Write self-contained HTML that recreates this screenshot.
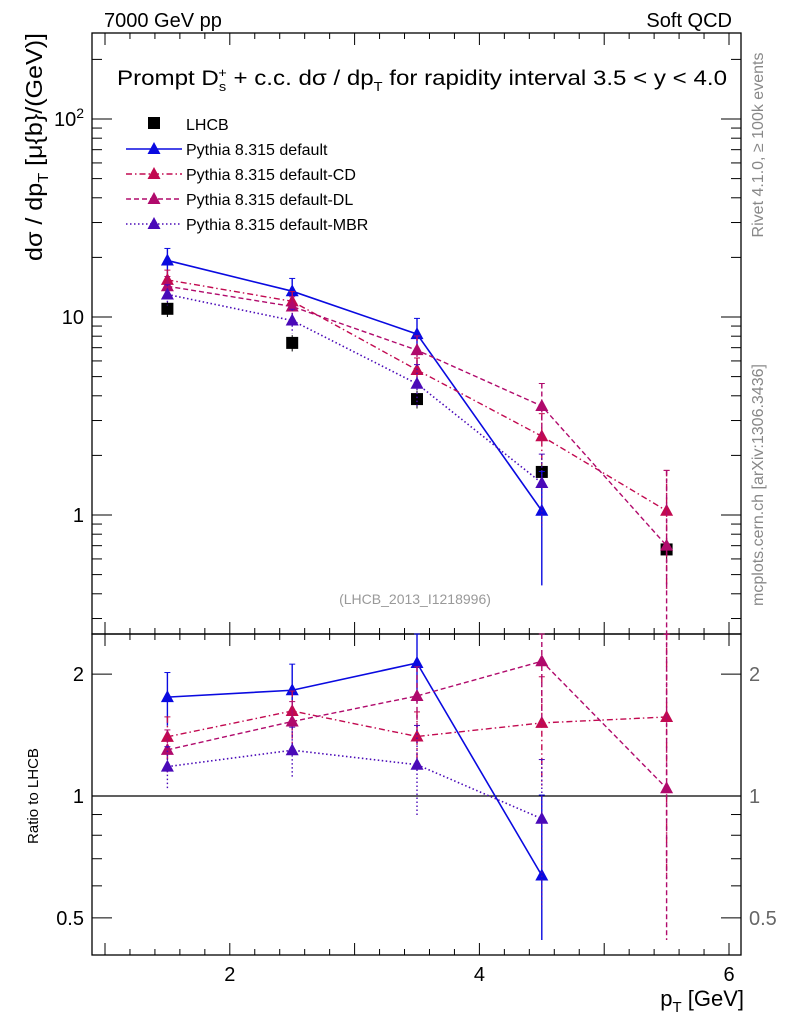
<!DOCTYPE html>
<html><head><meta charset="utf-8"><style>
body{margin:0;background:#fff;font-family:"Liberation Sans",sans-serif}
svg{display:block}
</style></head><body>
<svg id="c" width="786" height="1024" font-family="Liberation Sans, sans-serif"></svg>
<script>
const xCats=[1.5,2.5,3.5,4.5,5.5];
const lhcb=[11,7.4,3.85,1.65,0.67];
const lhcbErr=[1.0,0.7,0.4,0.2,0.09];
const sDefault=[19.3,13.5,8.2,1.05];
const eDefault=[0.15,0.16,0.2,0.58];
const sCD=[15.4,12.0,5.4,2.5,1.05];
const eCD=[0.12,0.12,0.15,0.3,0.6];
const sDL=[14.3,11.3,6.8,3.55,0.7];
const eDL=[0.12,0.12,0.18,0.3,1.4];
const sMBR=[13.0,9.6,4.6,1.45];
const eMBR=[0.12,0.14,0.25,0.4];
const xTicks=[2,4,6];
const yTicks=[[1,"1"],[10,"10"],[100,"10²"]];
const rTicks=[[0.5,"0.5"],[1,"1"],[2,"2"]];

const NS="http://www.w3.org/2000/svg";
const svg=document.getElementById('c');
function el(t,a,p){const e=document.createElementNS(NS,t);for(const k in a)e.setAttribute(k,a[k]);(p||svg).appendChild(e);return e;}
const L=92,R=741,T=33,M=634,B=955;
const X=v=>105+(v-1)*124.8;
const Y=v=>515-198*Math.log10(v);
const RY=v=>796-405*Math.log10(v);

el('rect',{x:L,y:T,width:R-L,height:M-T,fill:'none',stroke:'#000','stroke-width':1.3,});
el('rect',{x:L,y:M,width:R-L,height:B-M,fill:'none',stroke:'#000','stroke-width':1.3,});
el('line',{x1:L,x2:R,y1:RY(1),y2:RY(1),stroke:'#000','stroke-width':1.2,});
for(let v=1;v<=6.01;v+=0.2){const maj=Math.abs(v-Math.round(v))<0.01;const px=X(v);if(px<L||px>R)continue;
 const len=maj?12:6;
 [[M,-1],[T,1],[B,-1],[M,1]].forEach(([y0,d])=>el('line',{x1:px,x2:px,y1:y0,y2:y0+d*len,stroke:'#000','stroke-width':1}));}
xTicks.forEach(v=>{const t=el('text',{x:X(v),y:981,'font-size':20,'text-anchor':'middle',});t.textContent=v;});
for(let d=0;d<3;d++)for(let m=1;m<10;m++){const v=m*Math.pow(10,d);const py=Y(v);if(py<T||py>M)continue;const len=m==1?20:10;
 el('line',{x1:L,x2:L+len,y1:py,y2:py,stroke:'#000'});el('line',{x1:R,x2:R-len,y1:py,y2:py,stroke:'#000'});}
for(let m=3;m<10;m++){const py=Y(m/10);el('line',{x1:L,x2:L+10,y1:py,y2:py,stroke:'#000'});el('line',{x1:R,x2:R-10,y1:py,y2:py,stroke:'#000'});}
yTicks.forEach(([v,s])=>{const t=el('text',{x:L-8,y:Y(v)+7,'font-size':20,'text-anchor':'end',});
 if(v==100){t.textContent='10';const s2=el('tspan',{dy:-8,'font-size':14},t);s2.textContent='2';}else t.textContent=s;});
[0.5,0.6,0.7,0.8,0.9,1,2].forEach(v=>{const py=RY(v);const len=(v==1||v==2||v==0.5)?20:10;
 el('line',{x1:L,x2:L+len,y1:py,y2:py,stroke:'#000'});el('line',{x1:R,x2:R-len,y1:py,y2:py,stroke:'#000'});});
rTicks.forEach(([v,s])=>{const t=el('text',{x:L-8,y:RY(v)+7,'font-size':20,'text-anchor':'end',});t.textContent=s;
 const t2=el('text',{x:R+8,y:RY(v)+7,'font-size':20,'fill':'#666',});t2.textContent=s;});

const series=[
 {name:'Pythia 8.315 default',v:sDefault,e:eDefault,c:'#0a0ae0',dash:'',w:1.6},
 {name:'Pythia 8.315 default-CD',v:sCD,e:eCD,c:'#c20a50',dash:'6,3,1.5,3',w:1.4},
 {name:'Pythia 8.315 default-DL',v:sDL,e:eDL,c:'#b00a6c',dash:'5,3',w:1.4},
 {name:'Pythia 8.315 default-MBR',v:sMBR,e:eMBR,c:'#4a0ab8',dash:'1.5,2.5',w:1.6}];
function clampY(f,v,lo,hi){return Math.max(lo,Math.min(hi,f(v)));}
function tri(g,x,y,c){el('path',{d:`M${x},${y-7}L${x+6.5},${y+5}L${x-6.5},${y+5}Z`,fill:c},g);}
const gL=el('g',{});
lhcb.forEach((v,i)=>{const x=X(xCats[i]);el('line',{x1:x,x2:x,y1:Y(v+lhcbErr[i]),y2:Y(v-lhcbErr[i]),stroke:'#000'},gL);
 el('rect',{x:x-6,y:Y(v)-6,width:12,height:12,fill:'#000'},gL);});
series.forEach((s,k)=>{
 const g=el('g',{});
 const pts=s.v.map((v,i)=>X(xCats[i])+','+Y(v)).join(' ');
 el('polyline',{points:pts,fill:'none',stroke:s.c,'stroke-width':s.w,'stroke-dasharray':s.dash},g);
 const rp=s.v.map((v,i)=>X(xCats[i])+','+RY(v/lhcb[i])).join(' ');
 el('polyline',{points:rp,fill:'none',stroke:s.c,'stroke-width':s.w,'stroke-dasharray':s.dash},g);
 s.v.forEach((v,i)=>{const x=X(xCats[i]);const up=v*(1+s.e[i]),dn=Math.max(v*(1-s.e[i]),1e-3);
  el('line',{x1:x,x2:x,y1:clampY(Y,up,T,M),y2:clampY(Y,dn,T,M),stroke:s.c,'stroke-width':1.4,'stroke-dasharray':s.dash},g);
  el('line',{x1:x-3,x2:x+3,y1:clampY(Y,up,T,M),y2:clampY(Y,up,T,M),stroke:s.c},g);
  const r=v/lhcb[i];
  el('line',{x1:x,x2:x,y1:clampY(RY,r*(1+s.e[i]),M,B),y2:clampY(RY,Math.max(r*(1-s.e[i]),1e-3),M,B-15),stroke:s.c,'stroke-width':1.4,'stroke-dasharray':s.dash},g);
  el('line',{x1:x-3,x2:x+3,y1:clampY(RY,r*(1+s.e[i]),M,B),y2:clampY(RY,r*(1+s.e[i]),M,B),stroke:s.c},g);
  tri(g,x,Y(v),s.c);tri(g,x,RY(r),s.c);});
});
const lg=el('g',{});
el('rect',{x:148,y:117,width:12,height:12,fill:'#000'},lg);
let t=el('text',{x:186,y:130,'font-size':16},lg);t.textContent='LHCB';
series.forEach((s,k)=>{const y=149+k*25;
 el('line',{x1:126,x2:182,y1:y,y2:y,stroke:s.c,'stroke-width':s.w,'stroke-dasharray':s.dash},lg);
 tri(lg,154,y,s.c);
 const tt=el('text',{x:186,y:y+6,'font-size':16,},lg);tt.textContent=s.name;});
function txt(x,y,s,a){const e=el('text',Object.assign({x,y},a));e.textContent=s;return e;}
txt(104,27,'7000 GeV pp',{'font-size':20,});
txt(732,27,'Soft QCD',{'font-size':20,'text-anchor':'end',});
const ti=el('text',{x:117,y:85,'font-size':21.5,'textLength':610,'lengthAdjust':'spacingAndGlyphs'});
ti.innerHTML='Prompt D<tspan dy="6" font-size="13">s</tspan><tspan dx="-7" dy="-14" font-size="13">+</tspan><tspan dy="8"> + c.c.  dσ / dp</tspan><tspan dy="6" font-size="13">T</tspan><tspan dy="-6"> for rapidity interval 3.5 &lt; y &lt; 4.0</tspan>';
txt(415,604,'(LHCB_2013_I1218996)',{'font-size':14,fill:'#999','text-anchor':'middle',});
const xl=el('text',{x:744,y:1006,'font-size':22,'text-anchor':'end',});
xl.innerHTML='p<tspan dy="6" font-size="15">T</tspan><tspan dy="-6"> [GeV]</tspan>';
const yl=el('text',{x:0,y:0,'font-size':23,'text-anchor':'end',transform:'translate(42,33) rotate(-90)','textLength':228,'lengthAdjust':'spacingAndGlyphs'});
yl.innerHTML='dσ / dp<tspan dy="6" font-size="15">T</tspan><tspan dy="-6"> [μ{b}/(GeV)]</tspan>';
txt(0,0,'Ratio to LHCB',{'font-size':15,'text-anchor':'middle',transform:'translate(38,796) rotate(-90)',});
txt(0,0,'Rivet 4.1.0, ≥ 100k events',{'font-size':16,fill:'#888','text-anchor':'middle',transform:'translate(763,145) rotate(-90)',});
txt(0,0,'mcplots.cern.ch [arXiv:1306.3436]',{'font-size':16,fill:'#888','text-anchor':'middle',transform:'translate(763,485) rotate(-90)',});
</script>
</body></html>
